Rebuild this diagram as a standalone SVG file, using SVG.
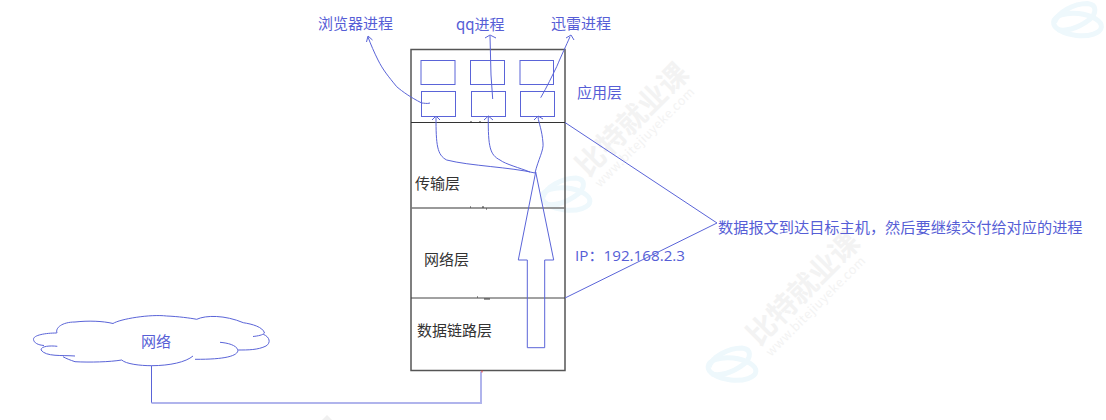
<svg xmlns="http://www.w3.org/2000/svg" width="1106" height="420" viewBox="0 0 1106 420">
<style>
text{font-family:"Noto Sans CJK SC","Microsoft YaHei","Noto Sans",sans-serif}
.b{fill:none;stroke:#5a64d8;stroke-width:1}
.k{fill:none;stroke:#555;stroke-width:1.5}
.l{font-size:15px;fill:#565ed6}
.d{font-size:15px;fill:#333}
.wm{font-size:29px;font-weight:700;fill:#f3f3f3}
.wu{font-size:12.500px;fill:#f3f3f3;letter-spacing:.5px}
.sw{fill:none;stroke:#eef8fc;stroke-width:5}
</style>
<defs>
<g id="swirl"><ellipse class="sw" cx="0" cy="0" rx="24" ry="11" transform="rotate(6)"/><path class="sw" d="M-23 -2C-20 -12 -4 -21 10 -21 20 -20 19 -11 12 -5-1 5-13 7-20 5"/></g>
</defs>
<rect width="1106" height="420" fill="#fff"/>
<g id="watermark">
<use href="#swirl" x="1077.500" y="24.500"/>
<use href="#swirl" x="732" y="369"/>
<use href="#swirl" x="566" y="199"/>
<text class="wm" transform="translate(588,178) rotate(-45)">比特就业课</text>
<text class="wu" transform="translate(600,188) rotate(-45)">www.bitejiuyeke.com</text>
<text class="wm" transform="translate(759,347) rotate(-45)">比特就业课</text>
<text class="wu" transform="translate(771,357) rotate(-45)">www.bitejiuyeke.com</text>
<path d="M322 420L327 415 332 420Z" fill="#f0f0f0"/>
</g>
<g id="stack">
<rect class="k" x="411" y="49.500" width="154" height="321"/>
<path d="M411 122.500H565" stroke="#333" stroke-width="1" fill="none"/>
<path d="M411 208H565" stroke="#777" stroke-width="1.500" fill="none"/>
<path d="M411 298H565" stroke="#444" stroke-width="1" fill="none"/>
<path d="M471 121v2M480 121v2M470 207h1M482 207h2M486 209h1M477 297h1M484 299h6" stroke="#333" stroke-width="1" fill="none"/>
<text class="d" x="415" y="189">传输层</text>
<text class="d" x="424" y="265">网络层</text>
<text class="d" x="417" y="336">数据链路层</text>
<text class="l" x="577" y="98">应用层</text>
</g>
<g id="processes">
<rect class="b" x="421" y="60.500" width="34" height="24"/>
<rect class="b" x="470.500" y="60.500" width="34" height="24"/>
<rect class="b" x="520" y="60.500" width="33.500" height="24"/>
<rect class="b" x="421.500" y="91.500" width="34" height="25"/>
<rect class="b" x="471.500" y="91.500" width="34" height="25"/>
<rect class="b" x="520.500" y="91.500" width="34" height="25"/>
</g>
<g id="labels">
<text class="l" x="318" y="29">浏览器进程</text>
<text class="l" x="456" y="30">qq进程</text>
<text class="l" x="551" y="29">迅雷进程</text>
<text class="l" x="575" y="261" style="font-size:15.200px;font-family:'Open Sans','Noto Sans CJK SC',sans-serif">IP：192.168.2.3</text>
<text class="l" x="718" y="233" style="font-size:15.200px">数据报文到达目标主机，然后要继续交付给对应的进程</text>
</g>
<g id="cloud">
<path class="b" d="M151.500 365.700C140 365.700 126 364 121.700 360C110 362 90 362.500 75 361.700C70 360 66 358.500 63 356.700"/>
<path class="b" d="M75 356C62 355 46 357 41 350C41 346 50 345.500 57.300 346.300"/>
<path class="b" d="M56.700 333C46 333 33 335 33.500 339.500C34 343 38 345 44 345.500"/>
<path class="b" d="M57 333C55 328 62 322 75 322C88 320.500 103 321 113 323.500C120 319 150 314 166.700 316C178 316.500 190 318 196.700 319.300C206 315 225 315 243.300 322.700C252 324 263 327 264.500 333C263 335 258 336 253 336.500"/>
<path class="b" d="M263.300 334.300C270 337 271 343 266 346C258 350 248 350 238.300 350"/>
<path class="b" d="M220 342.300C228 343 236 345 238 350C238 356 225 359.500 195 359.300"/>
<path class="b" d="M193 356C186 362 170 365.700 151.500 365.700"/>
<text class="l" x="141" y="347">网络</text>
</g>
<g id="connectors">
<path d="M151.500 365.700V403" fill="none" stroke="#5a64d8" stroke-width="1"/>
<path d="M151.500 403H481V371.500" fill="none" stroke="#b0b4ec" stroke-width="2"/>
<path d="M482 370.500v2" stroke="#e33" stroke-width="1" fill="none"/>
<path class="b" d="M527.300 347.700V260H518.300L535.700 172 553.700 260H544.700V347.700Z"/>
<path class="b" d="M535 173C510 167 470 166 446.700 160C437 155 436 145 436 116.700M432 120L436 116 440 120"/>
<path class="b" d="M530 172C520 168 505 164 500 160C490 155 488 147 488.300 116.700M484 120L488.300 116 493 120"/>
<path class="b" d="M535 173C538 160 544 150 543 143C542 130 539 124 538 117M534 120L538 116 543 119"/>
<path class="b" d="M430 103C427 104 424 103 421.700 103C410 97 403 92 396.700 86.700C388 76 383 70 378 60C374 52 371 45 368 37M366.500 42L368 36 372.500 40"/>
<path class="b" d="M492.700 99L491 75 490 36M485 38L490 35 496 38"/>
<path class="b" d="M540.700 97.700C547 87 552 76 556.700 66.700C562 54 566 46 570 36.700M566 38L571 35 574 40"/>
<path class="b" d="M565 122.500L717 223 565 298"/>
</g>
</svg>
